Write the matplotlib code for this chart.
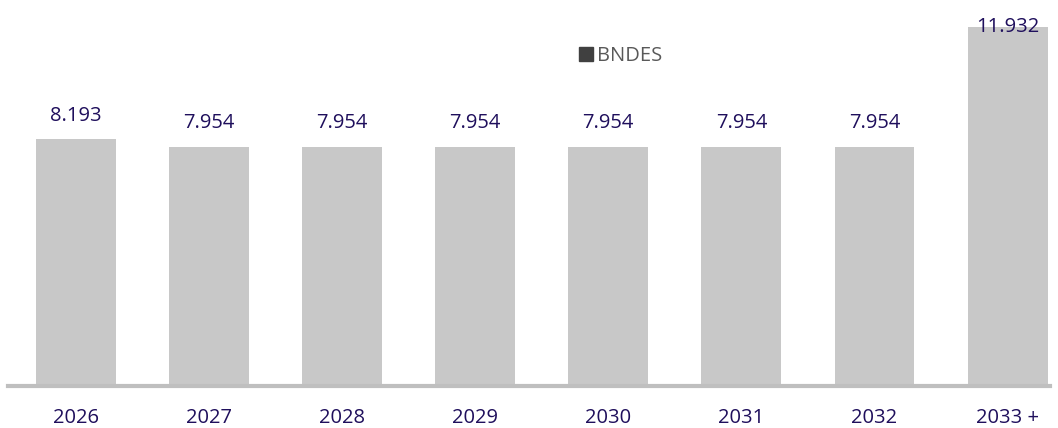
import matplotlib.pyplot as plt
from matplotlib.lines import Line2D

anos = ["2026", "2027", "2028", "2029", "2030", "2031", "2032", "2033 +"]
valores = [8193, 7954, 7954, 7954, 7954, 7954, 7954, 11932]
rotulos = ["8.193", "7.954", "7.954", "7.954", "7.954", "7.954", "7.954", "11.932"]

cor_barra = "#c8c8c8"
cor_texto = "#1f0f5c"

plt.rcParams['font.family'] = ['Open Sans', 'DejaVu Sans']

fig = plt.figure(figsize=(10.58, 4.28), dpi=100)
ax = fig.add_axes([0.0076, 0.098, 0.985, 0.902])

x = list(range(len(anos)))
ax.bar(x, valores, width=0.6, color=cor_barra, zorder=2)

ymax = 12824
for xi, v, r in zip(x, valores, rotulos):
    # rotulo acima da barra; se nao couber, fica sobre o topo da barra
    y = v + 620 if v + 620 + 500 < ymax else v - 170
    ax.text(xi, y, r, ha='center', va='baseline', fontsize=14.5, color=cor_texto, zorder=4)

ax.set_xlim(-0.51, 7.32)
ax.set_ylim(0, ymax)
ax.set_xticks(x)
ax.set_xticklabels(anos, fontsize=14.5, color=cor_texto)
ax.tick_params(axis='x', length=0, pad=16)
ax.set_yticks([])
for s in ['top', 'right', 'left']:
    ax.spines[s].set_visible(False)
ax.spines['bottom'].set_color('#bfbfbf')
ax.spines['bottom'].set_linewidth(3)
ax.spines['bottom'].set_zorder(3)

handle = Line2D([], [], marker='s', linestyle='', color='#404040', markersize=10)
leg = ax.legend([handle], ['BNDES'], loc='center', bbox_to_anchor=(0.586, 0.855),
                frameon=False, fontsize=14.5, handletextpad=0.05, handlelength=1)
for t in leg.get_texts():
    t.set_color('#595959')

fig.savefig('out.png', dpi=100)
